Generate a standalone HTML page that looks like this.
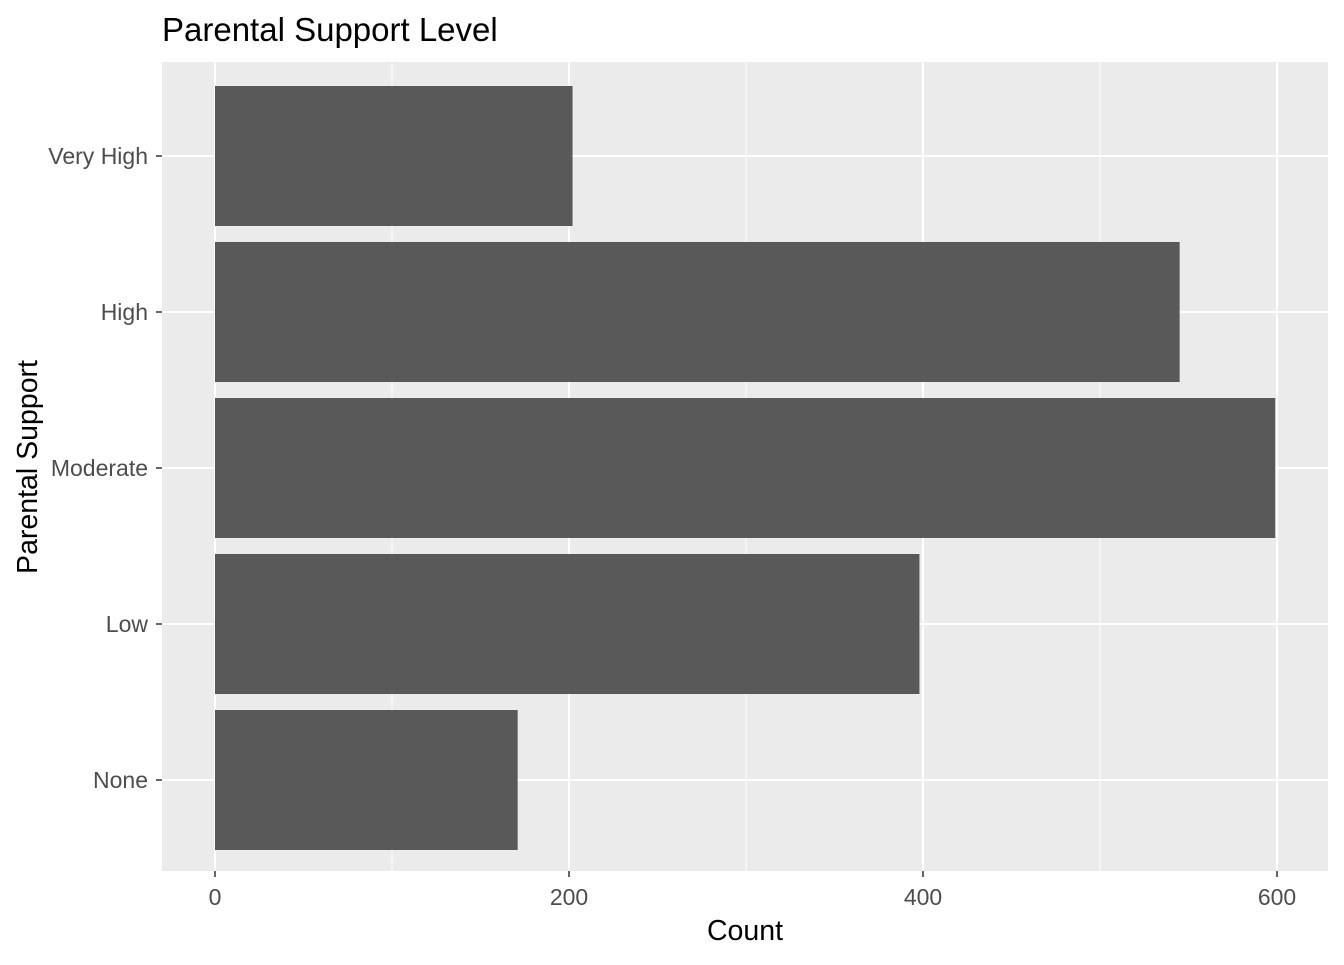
<!DOCTYPE html>
<html><head><meta charset="utf-8"><style>
body{margin:0;background:#fff;font-family:"Liberation Sans",sans-serif}
svg text{font-family:"Liberation Sans",sans-serif}
.title{font-size:33px}
.tick{font-size:23px;fill:#4d4d4d}
.axt{font-size:28.5px;fill:#000}
</style></head><body>
<svg id="chart" width="1344" height="960" xmlns="http://www.w3.org/2000/svg">
<text class="title" x="162" y="41" fill="#000">Parental Support Level</text>
<rect x="162" y="62" width="1166" height="809" fill="#ebebeb"/>
<g id="grid"></g><g id="bars"></g><g id="axes"></g>
<text class="axt" x="745" y="940" text-anchor="middle">Count</text>
<text class="axt" transform="translate(37,467) rotate(-90)" text-anchor="middle">Parental Support</text>
</svg>
<script>
const categories=["None","Low","Moderate","High","Very High"];
const counts=[171,398,599,545,202];
const xTicks=[0,200,400,600];
const NS="http://www.w3.org/2000/svg";
const x0=215,pxPer=1.77,panelL=162,panelR=1328,panelT=62,panelB=871;
const xs=v=>x0+v*pxPer;
const step=156,cBottom=780;
const ys=i=>cBottom-i*step;
function mk(t,a,p){const e=document.createElementNS(NS,t);for(const k in a)e.setAttribute(k,a[k]);p.appendChild(e);return e;}
const grid=document.getElementById('grid'),bars=document.getElementById('bars'),axes=document.getElementById('axes');
for(let i=0;i<xTicks.length-1;i++){const m=(xTicks[i]+xTicks[i+1])/2;
const l=mk('line',{x1:xs(m),x2:xs(m),y1:panelT,y2:panelB,stroke:'#fff','stroke-width':1},grid);
}
xTicks.forEach(v=>{const l=mk('line',{x1:xs(v),x2:xs(v),y1:panelT,y2:panelB,stroke:'#fff','stroke-width':2},grid);

const t=mk('line',{x1:xs(v),x2:xs(v),y1:panelB,y2:panelB+6,stroke:'#333','stroke-width':1.5},axes);

const tx=mk('text',{x:xs(v),y:905,'class':'tick','text-anchor':'middle'},axes);tx.textContent=v;
});
categories.forEach((c,i)=>{const y=ys(i);
const g=mk('line',{x1:panelL,x2:panelR,y1:y,y2:y,stroke:'#fff','stroke-width':2},grid);

const r=mk('rect',{x:xs(0),y:y-70,width:xs(counts[i])-xs(0),height:140,fill:'#595959'},bars);

const t=mk('line',{x1:panelL-6,x2:panelL,y1:y,y2:y,stroke:'#333','stroke-width':1.5},axes);

const tx=mk('text',{x:148,y:y+8,'class':'tick','text-anchor':'end'},axes);tx.textContent=c;
});
</script>
</body></html>
